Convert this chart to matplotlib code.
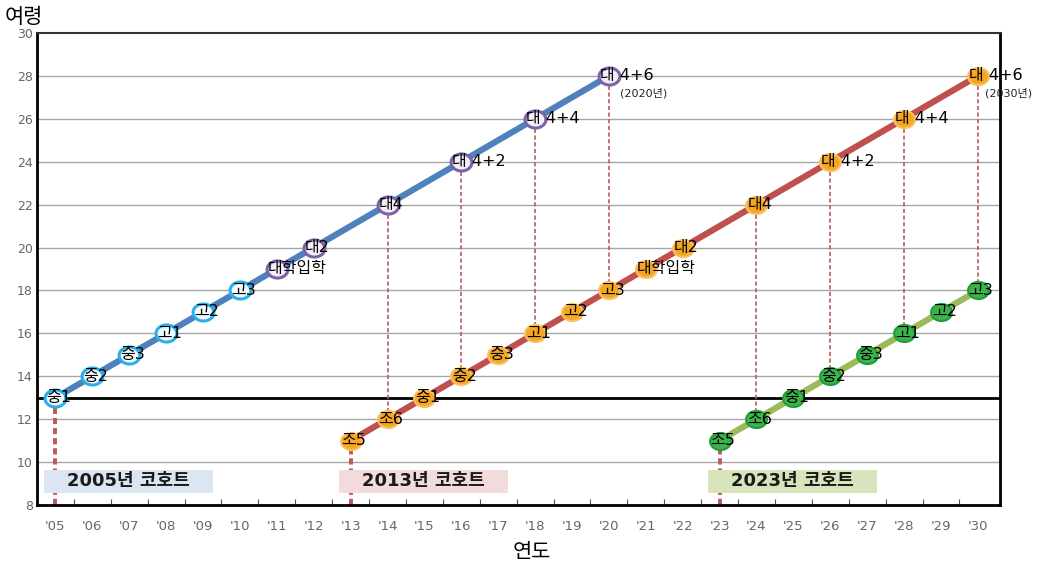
import numpy as np
import matplotlib
matplotlib.use('Agg')
import matplotlib.pyplot as plt
from matplotlib.patches import Rectangle
from matplotlib.path import Path

plt.rcParams['font.family'] = ['DejaVu Sans', 'Noto Sans CJK KR']

# 2005 cohort
years_a = [2005, 2006, 2007, 2008, 2009, 2010, 2011, 2012, 2014, 2016, 2018, 2020]
ages_a = [13, 14, 15, 16, 17, 18, 19, 20, 22, 24, 26, 28]
labels_a = ['중1', '중2', '중3', '고1', '고2', '고3', '대학입학', '대2', '대4', '대 4+2', '대 4+4', '대 4+6']
# 2013 cohort
years_b = [2013, 2014, 2015, 2016, 2017, 2018, 2019, 2020, 2021, 2022, 2024, 2026, 2028, 2030]
ages_b = [11, 12, 13, 14, 15, 16, 17, 18, 19, 20, 22, 24, 26, 28]
labels_b = ['조5', '조6', '중1', '중2', '중3', '고1', '고2', '고3', '대학입학', '대2', '대4', '대 4+2', '대 4+4', '대 4+6']
# 2023 cohort
years_c = [2023, 2024, 2025, 2026, 2027, 2028, 2029, 2030]
ages_c = [11, 12, 13, 14, 15, 16, 17, 18]
labels_c = ['조5', '조6', '중1', '중2', '중3', '고1', '고2', '고3']

cohort_names = ['2005년 코호트', '2013년 코호트', '2023년 코호트']
cohort_start = [2005, 2013, 2023]
cohort_fill = ['#dce6f2', '#f2dcdb', '#d7e4bc']

# vertical links (year, top age, bottom age)
link_years = [2014, 2016, 2018, 2020, 2024, 2026, 2028, 2030]
link_top = [22, 24, 26, 28, 22, 24, 26, 28]
link_bot = [12, 14, 16, 18, 12, 14, 16, 18]

# slightly flattened circle marker
th = np.linspace(0, 2*np.pi, 60)
ell = Path(np.c_[np.cos(th), 0.82*np.sin(th)])

fig = plt.figure(figsize=(10.53, 5.71), dpi=100)
ax = fig.add_axes([37/1053, 66/571, 963/1053, 472/571])
ax.set_xlim(2004.5, 2030.6)
ax.set_ylim(8, 30)

for yv in range(10, 30, 2):
    ax.axhline(yv, color='#a6a6a6', lw=1.0, zorder=0)
ax.axhline(13, color='black', lw=2.0, zorder=1)

dash = '#b85a5e'
for xv, t, b in zip(link_years, link_top, link_bot):
    ax.plot([xv, xv], [b, t], color=dash, lw=1.2, ls=(0, (2.5, 1.5)), zorder=1)
for i, s in enumerate(cohort_start):
    a0 = [ages_a[0], ages_b[0], ages_c[0]][i]
    ax.plot([s, s], [8, a0], color=dash, lw=2.8, ls=(0, (1.6, 1.0)), zorder=1)
    ax.add_patch(Rectangle((s - 0.32, 8.56), 4.59, 1.07, facecolor=cohort_fill[i],
                           edgecolor='none', zorder=2))
    ax.text(s + 1.97, 9.1, cohort_names[i], ha='center', va='center', fontsize=13,
            fontweight='bold', color='#1a1a1a', zorder=3)

ax.plot(years_a, ages_a, color='#4f81bd', lw=4.5, zorder=2, solid_capstyle='butt')
ax.plot(years_b, ages_b, color='#c0504d', lw=4.5, zorder=2, solid_capstyle='butt')
ax.plot(years_c, ages_c, color='#9bbb59', lw=4.5, zorder=2, solid_capstyle='butt')

ax.plot(years_a[:6], ages_a[:6], ls='none', marker=ell, ms=15, mfc='#f4fbff', mec='#29b0e8', mew=2.2, zorder=4)
ax.plot(years_a[6:], ages_a[6:], ls='none', marker=ell, ms=15, mfc='#f3eef8', mec='#7d62a8', mew=2.2, zorder=4)
ax.plot(years_b, ages_b, ls='none', marker=ell, ms=15, mfc='#f6a623', mec='#f9c060', mew=1.5, zorder=4)
ax.plot(years_c, ages_c, ls='none', marker=ell, ms=15, mfc='#3cb44b', mec='#1f9d3a', mew=1.5, zorder=4)

for xs, ys, ls in [(years_a, ages_a, labels_a), (years_b, ages_b, labels_b), (years_c, ages_c, labels_c)]:
    for xv, yv, lb in zip(xs, ys, ls):
        ax.text(xv - 0.25, yv, lb, ha='left', va='center', fontsize=11.5, color='black',
                fontweight='medium', zorder=5, clip_on=False)

ax.text(2020.3, 27.2, '(2020년)', ha='left', va='center', fontsize=8, color='#222222')
ax.text(2030.2, 27.2, '(2030년)', ha='left', va='center', fontsize=8, color='#222222',
        clip_on=False)

ax.set_yticks(range(8, 31, 2))
ax.set_xticks(np.arange(2005.5, 2030, 1))
ax.set_xticklabels([])
ax.set_xticks(range(2005, 2031), minor=True)
ax.set_xticklabels(["'%02d" % (y % 100) for y in range(2005, 2031)], minor=True)
ax.tick_params(axis='x', which='major', direction='in', length=4, color='#555555')
ax.tick_params(axis='x', which='minor', length=0, pad=11, labelsize=9.5, labelcolor='#666666')
ax.tick_params(axis='y', length=0, pad=3, labelsize=9, labelcolor='#666666')

for sp in ['left', 'bottom', 'right']:
    ax.spines[sp].set_linewidth(2.0)
ax.spines['top'].set_linewidth(1.5)
ax.spines['top'].set_color('#333333')

fig.text(532/1053, 1 - 552/571, '연도', ha='center', va='center', fontsize=15)
fig.text(5/1053, 1 - 17/571, '여령', ha='left', va='center', fontsize=15)

fig.savefig('out.png', dpi=100)
